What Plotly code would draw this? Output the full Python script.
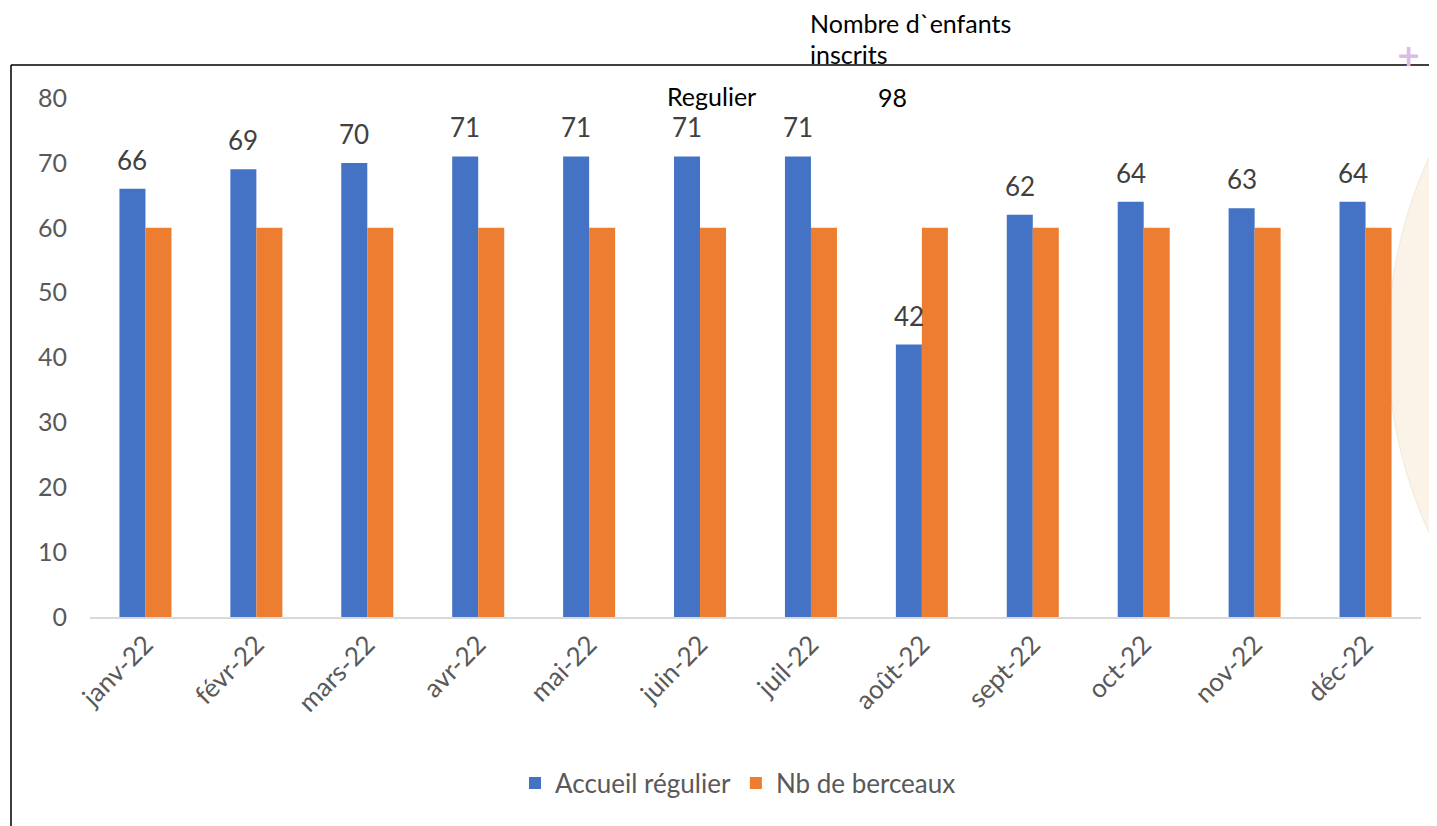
import plotly.graph_objects as go

months = ["janv-22", "févr-22", "mars-22", "avr-22", "mai-22", "juin-22",
          "juil-22", "août-22", "sept-22", "oct-22", "nov-22", "déc-22"]
accueil_regulier = [66, 69, 70, 71, 71, 71, 71, 42, 62, 64, 63, 64]
nb_berceaux = [60, 60, 60, 60, 60, 60, 60, 60, 60, 60, 60, 60]
y_ticks = [0, 10, 20, 30, 40, 50, 60, 70, 80]

FONT = "Lato"
BLUE = "#4472C4"
ORANGE = "#ED7D31"

# page body has an 8px margin; screen coordinates -> figure coordinates
OFF = 8
L, R, T, B = 90 - OFF, 1421 - OFF, 98 - OFF, 617 - OFF
W, Hf = 1437, 826
H = B - T

def py(pix):
    return (B - (pix - OFF)) / H
def px(pix):
    return ((pix - OFF) - L) / (R - L)

fig = go.Figure()
fig.add_trace(go.Bar(x=months, y=accueil_regulier, name="Accueil régulier",
                     marker=dict(color=BLUE, line=dict(width=0))))
fig.add_trace(go.Bar(x=months, y=nb_berceaux, name="Nb de berceaux",
                     marker=dict(color=ORANGE, line=dict(width=0))))

annotations = []
for m, v in zip(months, accueil_regulier):
    annotations.append(dict(x=m, y=v, xref="x", yref="y", text=str(v),
                            showarrow=False, xshift=-13, yshift=29,
                            yanchor="middle",
                            font=dict(family=FONT, size=26, color="#404040")))

annotations += [
    dict(x=px(665), y=py(96), xref="paper", yref="paper", text="Regulier",
         showarrow=False, xanchor="left", yanchor="middle",
         font=dict(family=FONT, size=25, color="#000000")),
    dict(x=px(876), y=py(97), xref="paper", yref="paper", text="98",
         showarrow=False, xanchor="left", yanchor="middle",
         font=dict(family=FONT, size=25, color="#000000")),
    dict(x=px(808), y=py(23), xref="paper", yref="paper", text="Nombre d`enfants",
         showarrow=False, xanchor="left", yanchor="middle",
         font=dict(family=FONT, size=25, color="#000000")),
    dict(x=px(808), y=py(54), xref="paper", yref="paper", text="inscrits",
         showarrow=False, xanchor="left", yanchor="middle",
         font=dict(family=FONT, size=25, color="#000000")),
    dict(x=px(1408), y=py(56), xref="paper", yref="paper", text="<b>+</b>",
         showarrow=False, xanchor="center", yanchor="middle",
         font=dict(family="DejaVu Sans", size=30, color="#D9BDE3")),
]

shapes = [
    dict(type="circle", xref="paper", yref="paper",
         x0=px(1388), x1=px(1388 + 900), y0=py(345 + 450), y1=py(345 - 450),
         fillcolor="#FBF3E7", line=dict(color="#F1E8DA", width=1), layer="below"),
    dict(type="line", xref="paper", yref="paper",
         x0=px(11), x1=px(1460), y0=py(65), y1=py(65),
         line=dict(color="#000000", width=1.5)),
    dict(type="line", xref="paper", yref="paper",
         x0=px(11), x1=px(11), y0=py(65), y1=py(860),
         line=dict(color="#000000", width=1.5)),
]

fig.update_layout(
    width=W, height=Hf,
    margin=dict(l=L, r=W - R, t=T, b=Hf - B),
    paper_bgcolor="white", plot_bgcolor="rgba(0,0,0,0)",
    barmode="group", bargap=0.531, bargroupgap=0,
    font=dict(family=FONT, size=25, color="#595959"),
    showlegend=True,
    legend=dict(orientation="h", x=px(738), xanchor="center", y=py(783),
                yanchor="middle", font=dict(family=FONT, size=26, color="#595959"),
                itemwidth=30, traceorder="normal"),
    xaxis=dict(type="category", tickangle=-45, showgrid=False, showline=True,
               linecolor="#D9D9D9", linewidth=2, ticks="",
               tickfont=dict(family=FONT, size=26, color="#595959")),
    yaxis=dict(range=[0, 80], tickvals=y_ticks, showgrid=False, zeroline=False,
               showline=False, ticks="", ticklabelstandoff=22,
               tickfont=dict(family=FONT, size=25, color="#595959")),
    annotations=annotations,
    shapes=shapes,
)

fig.write_html("out.html")
